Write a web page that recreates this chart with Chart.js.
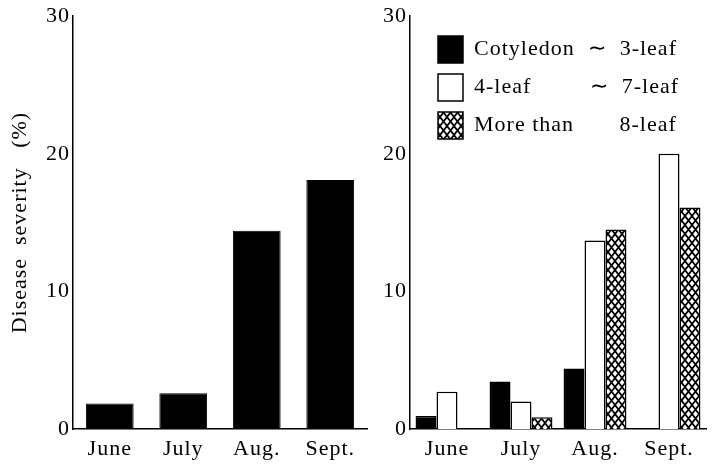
<!DOCTYPE html>
<html>
<head>
<meta charset="utf-8">
<script src="https://cdn.jsdelivr.net/npm/chart.js@4/dist/chart.umd.min.js"></script>
<style>
  html, body { margin: 0; padding: 0; background: #fff; }
  #wrap { position: relative; width: 712px; height: 469px; }
  #left { position: absolute; left: 0; top: 0; width: 370px; height: 469px; }
  #right { position: absolute; left: 370px; top: 0; width: 342px; height: 469px; }
</style>
</head>
<body>
<div id="wrap">
  <div id="left"><canvas id="allChart"></canvas></div>
  <div id="right"><canvas id="stageChart"></canvas></div>
</div>
<script>
// ---------- DATA ----------
const months = ["June", "July", "Aug.", "Sept."];
const allPlants = [1.85, 2.6, 14.4, 18.1];
const cotyledonTo3 = [0.95, 3.45, 4.4, 0];
const leaf4To7 = [2.7, 2.0, 13.7, 20.0];
const moreThan8 = [0, 0.85, 14.5, 16.1];
const stageNames = ["Cotyledon  ∼  3-leaf", "4-leaf         ∼  7-leaf", "More than       8-leaf"];
const yTicks = [0, 10, 20, 30];

Chart.defaults.font.family = "'Liberation Serif', 'Times New Roman', serif";
Chart.defaults.font.size = 22;
Chart.defaults.color = "#000";
Chart.defaults.animation = false;

// letter spacing like the printed figure (canvas state is reset on resize)
const spacing = {
  id: "spacing",
  beforeLayout(chart) { chart.ctx.letterSpacing = "1px"; },
  beforeDraw(chart) { chart.ctx.letterSpacing = "1px"; }
};

// cross-hatch fill
function crossHatch() {
  const w = 7, h = 9;
  const c = document.createElement("canvas");
  c.width = w; c.height = h;
  const g = c.getContext("2d");
  g.fillStyle = "#fff";
  g.fillRect(0, 0, w, h);
  g.strokeStyle = "#000";
  g.lineWidth = 1.7;
  g.beginPath();
  g.moveTo(-w, -h); g.lineTo(2 * w, 2 * h);
  g.moveTo(2 * w, -h); g.lineTo(-w, 2 * h);
  g.stroke();
  return g.createPattern(c, "repeat");
}

function yAxis(width, withTitle) {
  return {
    min: 0,
    max: 30,
    afterBuildTicks(axis) { axis.ticks = yTicks.map(v => ({ value: v })); },
    afterFit(axis) { axis.width = width; },
    grid: { display: false, drawTicks: false },
    border: { color: "#000", width: 1.5 },
    ticks: { color: "#000", padding: 3, font: { size: 22 } },
    title: {
      display: withTitle,
      text: "Disease  severity   (%)",
      color: "#000",
      font: { size: 22 },
      padding: { top: 7, bottom: 0 }
    }
  };
}

const xAxis = {
  afterFit(axis) { axis.height = 40; },
  grid: { display: false, drawTicks: false },
  border: { color: "#000", width: 1.5 },
  ticks: { color: "#000", padding: 7, font: { size: 22 } }
};

// ---------- LEFT: all plants ----------
new Chart(document.getElementById("allChart"), {
  type: "bar",
  data: {
    labels: months,
    datasets: [{
      label: "All",
      data: allPlants,
      backgroundColor: "#000",
      borderColor: "#000",
      borderWidth: 1,
      categoryPercentage: 1,
      barPercentage: 0.65
    }]
  },
  options: {
    responsive: true,
    maintainAspectRatio: false,
    layout: { padding: { top: 13, right: 3, left: 0, bottom: 0 } },
    plugins: { legend: { display: false }, tooltip: { enabled: false } },
    scales: { x: xAxis, y: yAxis(73, true) }
  },
  plugins: [spacing]
});

// ---------- RIGHT: by growth stage ----------
const legendPlace = {
  id: "legendPlace",
  afterLayout(chart) {
    chart.legend.left = chart.chartArea.left + 17;
    chart.legend.top = 25;
  }
};

new Chart(document.getElementById("stageChart"), {
  type: "bar",
  data: {
    labels: months,
    datasets: [
      { label: stageNames[0], data: cotyledonTo3, backgroundColor: "#000", borderColor: "#000", borderWidth: 1.5 },
      { label: stageNames[1], data: leaf4To7, backgroundColor: "#fff", borderColor: "#000", borderWidth: 1.5 },
      { label: stageNames[2], data: moreThan8, backgroundColor: crossHatch(), borderColor: "#000", borderWidth: 1.5 }
    ]
  },
  options: {
    responsive: true,
    maintainAspectRatio: false,
    layout: { padding: { top: 13, right: 6, left: 0, bottom: 0 } },
    datasets: { bar: { categoryPercentage: 0.85, barPercentage: 1 } },
    plugins: {
      tooltip: { enabled: false },
      legend: {
        position: "chartArea",
        align: "start",
        labels: {
          boxWidth: 25,
          boxHeight: 27,
          padding: 11,
          color: "#000",
          font: { size: 22 }
        }
      }
    },
    scales: { x: xAxis, y: yAxis(40, false) }
  },
  plugins: [spacing, legendPlace]
});
</script>
</body>
</html>
